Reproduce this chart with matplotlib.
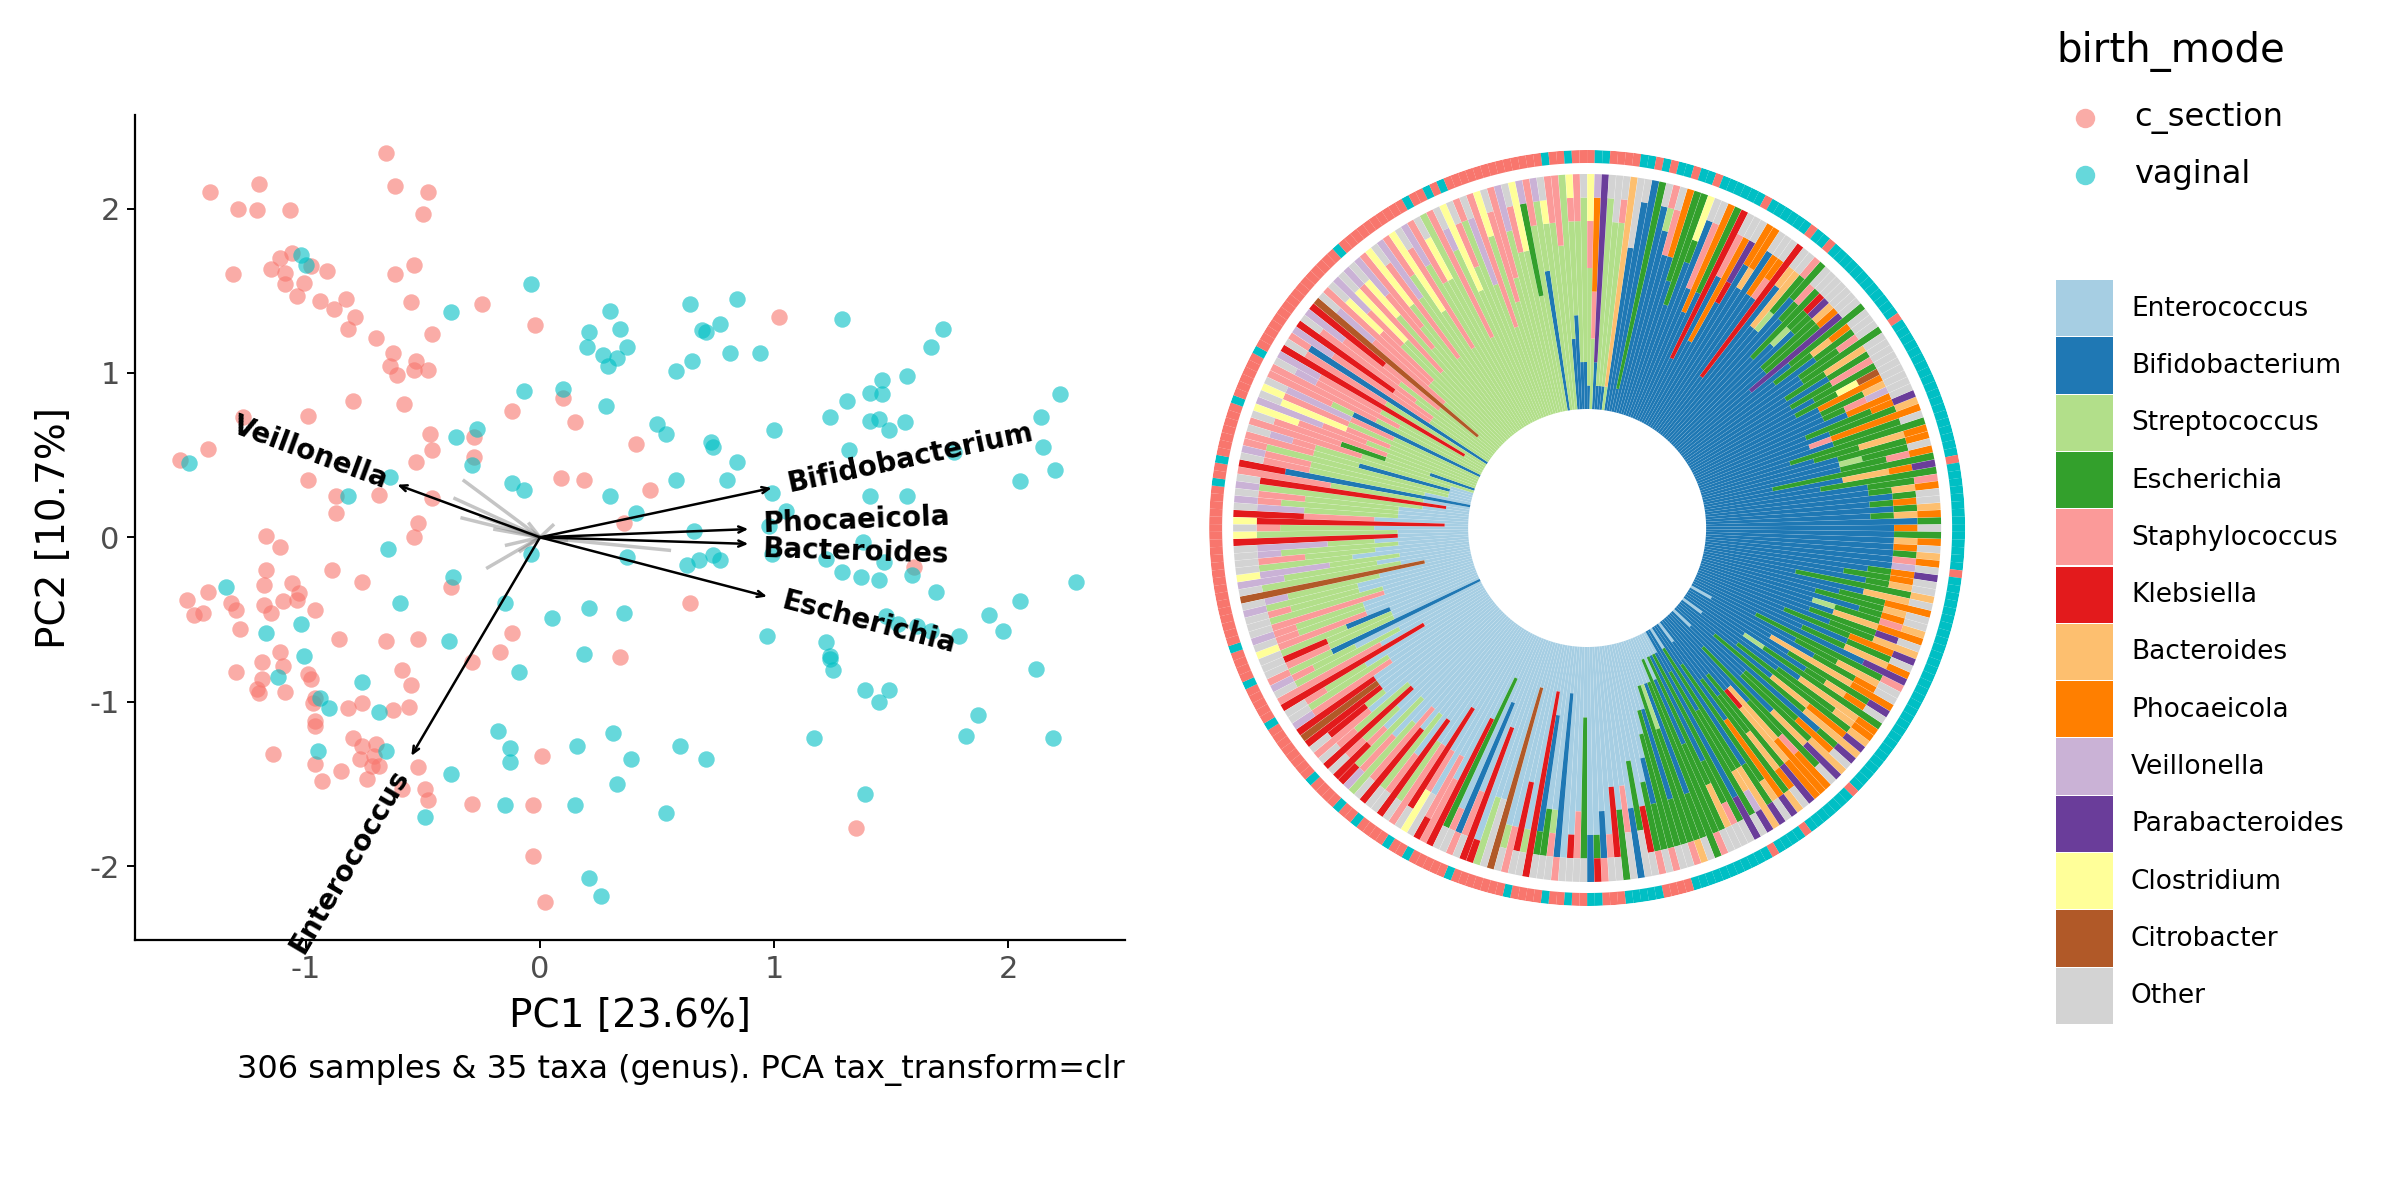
import numpy as np
import matplotlib
matplotlib.use("Agg")
import matplotlib.pyplot as plt
from matplotlib.patches import Rectangle
from matplotlib.lines import Line2D

plt.rcParams['font.family'] = ['DejaVu Sans']
plt.rcParams['axes.unicode_minus'] = False

# ---------------- PCA biplot data ----------------
cs_pts = [
    (-0.66, 2.34), (-1.41, 2.10), (-1.20, 2.15), (-1.29, 2.00), (-1.21, 1.99), (-1.07, 1.99), (-0.62, 2.14),
    (-0.48, 2.10), (-0.50, 1.97), (-1.11, 1.70), (-1.06, 1.73), (-0.98, 1.65), (-1.15, 1.63), (-1.09, 1.61),
    (-1.31, 1.60), (-0.91, 1.62), (-1.09, 1.54), (-1.01, 1.55), (-1.04, 1.47), (-0.94, 1.44), (-0.88, 1.39),
    (-0.83, 1.45), (-0.79, 1.34), (-0.82, 1.27), (-0.62, 1.60), (-0.54, 1.66), (-0.55, 1.43), (-0.46, 1.24),
    (-0.25, 1.42), (-0.70, 1.21), (-0.63, 1.12), (-0.64, 1.04), (-0.61, 0.99), (-0.53, 1.07), (-0.54, 1.02),
    (-0.48, 1.02), (-0.58, 0.81), (-0.80, 0.83), (-0.99, 0.74), (-1.27, 0.73), (-1.42, 0.54), (-1.54, 0.47),
    (-0.99, 0.35), (-0.87, 0.25), (-0.87, 0.15), (-0.69, 0.26), (-0.53, 0.46), (-0.47, 0.63), (-0.46, 0.53),
    (-0.28, 0.61), (-0.28, 0.49), (-0.46, 0.24), (-0.52, 0.09), (-0.54, 0.00), (-0.12, 0.77), (0.10, 0.85),
    (0.15, 0.70), (-0.02, 1.29), (0.09, 0.36), (0.19, 0.35), (0.41, 0.57), (0.47, 0.29), (0.36, 0.09),
    (1.02, 1.34), (-1.17, 0.01), (-1.11, -0.06), (-1.17, -0.20), (-1.18, -0.29), (-1.06, -0.28), (-1.03, -0.34),
    (-1.04, -0.38), (-1.10, -0.39), (-1.51, -0.38), (-1.42, -0.33), (-1.48, -0.47), (-1.44, -0.46), (-1.32, -0.40),
    (-1.30, -0.44), (-1.28, -0.56), (-1.18, -0.41), (-1.15, -0.46), (-0.96, -0.44), (-0.76, -0.27), (-0.89, -0.20),
    (-0.86, -0.62), (-0.66, -0.63), (-0.52, -0.62), (-0.38, -0.30), (-1.30, -0.82), (-1.19, -0.76), (-1.19, -0.86),
    (-1.21, -0.92), (-1.20, -0.95), (-1.09, -0.94), (-1.11, -0.70), (-1.10, -0.78), (-0.99, -0.83), (-0.98, -0.86),
    (-0.96, -0.98), (-0.97, -1.01), (-0.96, -1.12), (-0.96, -1.15), (-0.59, -0.81), (-0.55, -0.90), (-0.56, -1.03),
    (-0.63, -1.05), (-0.82, -1.04), (-0.76, -1.01), (-0.80, -1.22), (-0.76, -1.27), (-0.77, -1.35), (-0.71, -1.33),
    (-0.69, -1.39), (-0.70, -1.26), (-0.72, -1.39), (-0.74, -1.47), (-0.85, -1.42), (-0.93, -1.48), (-0.96, -1.38),
    (-1.14, -1.32), (-0.52, -1.40), (-0.49, -1.53), (-0.48, -1.60), (-0.59, -1.53), (-0.29, -0.76), (-0.17, -0.70),
    (-0.12, -0.58), (0.34, -0.73), (0.01, -1.33), (-0.29, -1.62), (-0.03, -1.63), (-0.03, -1.94), (0.02, -2.22),
    (1.35, -1.77), (1.60, -0.18), (0.64, -0.40),
]
vg_pts = [
    (-1.50, 0.45), (-1.02, 1.72), (-1.00, 1.66), (-0.64, 0.37), (-0.82, 0.25), (-0.65, -0.07), (-1.34, -0.30),
    (-1.17, -0.58), (-1.02, -0.53), (-1.01, -0.72), (-1.12, -0.85), (-0.94, -0.98), (-0.90, -1.04), (-0.76, -0.88),
    (-0.69, -1.06), (-0.66, -1.30), (-0.95, -1.30), (-0.60, -0.40), (-0.37, -0.24), (-0.36, 0.61), (-0.29, 0.44),
    (-0.27, 0.66), (-0.38, 1.37), (-0.04, 1.54), (-0.07, 0.89), (0.10, 0.90), (0.28, 0.80), (-0.12, 0.33),
    (-0.07, 0.29), (-0.04, -0.10), (-0.15, -0.40), (-0.09, -0.82), (0.05, -0.49), (0.19, -0.71), (0.21, -0.43),
    (0.36, -0.46), (0.37, -0.12), (-0.39, -0.63), (-0.38, -1.44), (-0.49, -1.70), (-0.18, -1.18), (-0.13, -1.28),
    (-0.13, -1.37), (-0.15, -1.63), (0.16, -1.27), (0.15, -1.63), (0.31, -1.19), (0.33, -1.50), (0.39, -1.35),
    (0.54, -1.68), (0.60, -1.27), (0.71, -1.35), (0.21, -2.07), (0.26, -2.18), (0.30, 0.25), (0.41, 0.15),
    (0.50, 0.69), (0.54, 0.63), (0.58, 0.35), (0.58, 1.01), (0.65, 1.07), (0.64, 1.42), (0.69, 1.26),
    (0.71, 1.25), (0.77, 1.30), (0.81, 1.12), (0.84, 1.45), (0.94, 1.12), (0.30, 1.38), (0.34, 1.27),
    (0.21, 1.25), (0.20, 1.16), (0.27, 1.11), (0.29, 1.04), (0.33, 1.09), (0.37, 1.16), (0.73, 0.58),
    (0.74, 0.55), (0.84, 0.46), (0.80, 0.35), (0.66, 0.04), (0.63, -0.17), (0.68, -0.14), (0.74, -0.11),
    (0.77, -0.14), (1.00, 0.65), (0.99, 0.27), (1.05, 0.16), (0.98, 0.07), (0.99, -0.10), (1.24, 0.73),
    (1.31, 0.83), (1.32, 0.53), (1.41, 0.71), (1.41, 0.88), (1.45, 0.72), (1.46, 0.96), (1.46, 0.87),
    (1.56, 0.70), (1.49, 0.65), (1.57, 0.98), (1.67, 1.16), (1.72, 1.27), (1.29, 1.33), (1.77, 0.52),
    (1.41, 0.25), (1.57, 0.25), (2.05, 0.34), (2.14, 0.73), (2.15, 0.55), (2.20, 0.41), (2.22, 0.87),
    (1.38, -0.03), (1.22, -0.13), (1.29, -0.21), (1.37, -0.24), (1.45, -0.26), (1.47, -0.15), (1.59, -0.23),
    (1.69, -0.33), (0.97, -0.60), (1.22, -0.64), (1.24, -0.72), (1.24, -0.74), (1.25, -0.81), (1.48, -0.48),
    (1.53, -0.53), (1.61, -0.54), (1.67, -0.57), (1.79, -0.60), (1.92, -0.47), (1.98, -0.57), (2.05, -0.39),
    (2.12, -0.80), (2.29, -0.27), (1.39, -0.93), (1.45, -1.00), (1.49, -0.93), (1.17, -1.22), (1.39, -1.56),
    (1.87, -1.08), (1.82, -1.21), (2.19, -1.22),
]

arrow_names = ["Bifidobacterium", "Phocaeicola", "Bacteroides", "Escherichia", "Veillonella", "Enterococcus"]
arrow_x = [0.99, 0.89, 0.89, 0.97, -0.61, -0.55]
arrow_y = [0.30, 0.05, -0.04, -0.36, 0.32, -1.33]
label_nudge_y = [0.0, 0.03, -0.03, 0.0, 0.0, 0.0]

minor_x = [-0.33, -0.37, -0.34, -0.26, -0.23, -0.15, 0.56, 0.06, -0.05, -0.09, 0.12, -0.20]
minor_y = [0.35, 0.24, 0.12, 0.13, -0.19, -0.05, -0.08, 0.08, 0.09, -0.09, -0.02, 0.05]

# ---------------- composition data ----------------
taxa = ["Enterococcus", "Bifidobacterium", "Streptococcus", "Escherichia", "Staphylococcus",
        "Klebsiella", "Bacteroides", "Phocaeicola", "Veillonella", "Parabacteroides",
        "Clostridium", "Citrobacter", "Other"]
taxa_colors = ["#A6CEE3", "#1F78B4", "#B2DF8A", "#33A02C", "#FB9A99", "#E31A1C", "#FDBF6F",
               "#FF7F00", "#CAB2D6", "#6A3D9A", "#FFFF99", "#B15928", "#D3D3D3"]
codes = "EBSXPKAHVRCTO"  # one letter per taxon, same order as taxa

# each sample: letters = tenths of relative abundance, in seriated (clockwise) order
bars = [
    # 0 - 90 deg
    "BSSSSSPPCC", "SSSPPHHHHV", "BBRRRRRRRR", "BSSSSSSSSO", "BSSSSSSSOO", "BSSSSSSSPO", "SAAAAAAAAA",
    "BBBBBBBOOO", "BBBBBBBBBO", "BBBBBBBBBB", "BXXXXXXXXX", "BBBBBBBBBO", "BBBBBBBBSP", "BBBBBBBPPO",
    "BBBBBBBHHH", "BBBBBBXXXX", "BBBBBXXXXX", "BBBBBBBXCC", "BBBBBBBBBO", "BBBBBBPPPO", "BBBBBHHHHH",
    "BBBBBBXXXX", "BBBKKKKKKK", "BBBBBBBPPO", "BBBBHHHHHO", "BBBBBBKRRO", "BBBBBBBBHH", "BBBBBBBAHH",
    "BBBBBBBBBO", "BBBBBBBHHO", "BBBBBBBPHO", "BBBKKKKKKK", "BBBBBBBBAO", "BBBBBBAAAO", "BBBBBBXXSP",
    "BBBBBBBBXX", "BBBBBBBXPO", "BBBBBXXXXO", "BBBBBBSXKO", "BBBBBBBXRO", "BBBBBXXXAO", "BBBBBXXXHO",
    "BBBBRRRRRO", "BBBBBBXXXX", "BBBBBXXAHO", "BBBBBBBXXO", "BBBBBBXXPO", "BBBBBBXXXX", "BBBBBXXAAO",
    "BBBBBBBXXO", "BBBBBXXPPO", "BBBBBBXXXO", "BBBBBXXCTO", "BBBBBBHHHO", "BBBBBBXXAO", "BBBBBBXPVO",
    "BBBBBBBHHO", "BBBBBXXXHR", "BBBBBBXXXA", "BBBBBHHHHP", "BBBBBBXXXO", "BBBBXXXXXX", "BBBBBXXAAH",
    "BBBBBBXXXH", "BBBBBBSXXO", "BBBBBBXXPH", "BBBXXXXXXX", "BBBBBBAAHR", "BBBBBXXXXX", "BBBBBBBXXP",
    "BBBBBBBXAH", "BBBBBBBBXO", "BBBBBBBXHO", "BBBBBBBBXA", "BBBBBBBXAH", "BBBBBBBBBX", "BBBBBBBBHO",
    # 90 - 180 deg
    "BBBBBBBBXX", "BBBBBBBBAH", "BBBBBBBBHO", "BBBBBBBBXA", "BBBBBBBBHP", "BBBBBBBBVO", "BBBBBBBXHR",
    "BBBBBBXXHO", "BBBBBBBXAO", "BBBBXXXXXA", "BBBBBBBAAO", "BBBBBBXXHH", "BBBBBXXXAO", "BBBBBBBXHO",
    "BBBBBSXXAP", "BBBBBBAAHH", "BBBBBXXXRO", "BBBBBBXXAA", "BBBBXXXHHR", "BBBBBBBXXO", "BBBBBXXAAH",
    "BBBBBBBBRR", "BBBXXXXXXP", "BBBBBXXAAO", "EBBBBBXXHO", "BBBBAAAAHH", "BBBBBXXXXR", "BBBBBBXAHO",
    "BBBXXXXXXS", "BBBBBBAAAH", "EBBBBXXXAH", "BBBXXXXXXA", "BBBBBAAHHR", "BBXXXXXAAA", "BBBBBBBBXR",
    "BBBBXXXHHO", "EBBBXXXXAA", "BBBBBBAARR", "BBXXXXXXXO", "BBBBBXXPHH", "BBBBAAAHHH", "BBBBKAAAHH",
    "BBBXXXXXRR", "BBBBXXAAHO", "EBBXXXXXXA", "BBBBBHHHHR", "BBXXXXXXAO", "BBBBBBBXXR", "EXXXXXXAAA",
    "BBBBXXXAVR", "BBXXXXXXXO", "EBBBBBBBRR", "EXXXXXXXXO", "EBBBBBXXPO", "EXXXXXXAAO", "EEBBBXXXXO",
    "EXXXXXXXXP", "EEXXXXXXXX", "EEBBBBBXXO", "EESSXXXXXA", "EEXXXXXXXP", "EEEBBBBXXO", "EEEXXXXXXO",
    "EEEEXXXXXP", "EEEEEBBXXO", "EEEEEEXXXP", "EEEEEEEKKO", "EEEEEXXXOO", "EEEEEEEBBB", "EEEEEEPPOO",
    "EEEEEEEXXX", "EEEEEEKKKO", "EEEEEEEEPO", "EEEEEEEBBP", "EEEEEEEEXK", "EEEEEEEEBB",
    # 180 - 270 deg
    "EEEXXXXXXO", "EEEEEEEPPO", "EEEEEEEEKO", "EEEEEEEEEO", "EEBBBBBBBP", "EEEEEEESPO", "EEEEEEEXXO",
    "EEEBBBBBXO", "EEKKKKKKKK", "EEEEEEEESO", "EEEEEEKKKO", "EEEEEEEEPP", "EEEEEEEESO", "EETTTTTTTT",
    "EEEEEEEOOO", "EEEEEEESSS", "EEEEEEEEEK", "EEEEKKKKKK", "EEEEEEEPPO", "EEEBBBBBBP", "EEEEEEEEPO",
    "EEXXXXXXXO", "EEEEKKKKKK", "EEEEEEEPPP", "EEEEEEPPPK", "EEEEEEEEOO", "EEEEEEPPCC", "EEEEKKKKKO",
    "EEEEEEPPPP", "EEEEEESSSO", "EEEEEKKKKK", "EEEEEEEPPO", "EEEEESSSSO", "EEEEEEKKKK", "EEEEEPPPPO",
    "EEEEEESSSS", "EEEEEEEPPV", "EEEEESSSSK", "EEEEEEEKKP", "EEEEEESSPO", "EEEEEKKKKK", "EEEEESSSPO",
    "EEEEEEEPPP", "EEEEEESKKO", "EEEEEEKKKK", "EEEEEETTTT", "EEEEEEKKKK", "EEEEEPPPPV", "EEEEESSSSO",
    "EEEEEESSPO", "EEEKKKKKKK", "EEEEEPPPPP", "EEEESSSSSO", "EEEEEESSPV", "BBBBBBBSSP", "EEEESSSPPO",
    "EEEESSSKKO", "EEEESSSBBO", "EEEEEPPPPC", "EEEEESSSPO", "EEEEESSSPV", "EEEEPPPPPO", "EEEESSSSSO",
    "EEEEESSSPO", "EEEEESSSSV", "EEEESSSSVO", "EETTTTTTTT", "EEESSSSSSO", "EEEESSSSVV", "EEESSSVVVC",
    "EEEEESSSSO", "EEEESSSPPO", "EEESSSSSVO", "EEEESSVVVO", "EEEKKKKKKK", "EEESSSSSSC", "EEEESSSSPO",
    # 270 - 360 deg
    "EKKKKKKKKC", "EEEEPPPKKK", "EEESSSSVVO", "EEESSSSSVP", "EEESSSSPPO", "EESSSSSSVS", "EKKKKKKKKO",
    "EESSSSPPPP", "BBBBBBBBKK", "EESSSSSPPO", "ESSSSSSPPV", "ESSSSSSSSP", "EBBBBSSPPP", "ESSSSSSPVO",
    "SSSSSPPPPP", "SSBBXXPPPO", "SSSSPPPPCC", "SSSSSPPVVV", "SSSSPPCCCO", "SSSSSSPPCP", "SSSSPPVVVO",
    "SBBBBBBPPP", "SSSSSPPPPP", "SSSSPPPPVO", "SSSSSPPPVV", "SKKKKKKKKK", "SSSSSPPPPO", "BBBBBBBBBP",
    "SSSPPPPPVV", "SSSPPKKKKK", "SSSSPPPPPO", "SSSSSPPVVP", "SSSPPPKKKK", "STTTTTTTTT", "SSSPPPPVVO",
    "SSSSPPPPPP", "SSSSPPPCCO", "SSSSSSPPVV", "SSSSSSCCCO", "SSSSPPPPVP", "SSSSSSSCCO", "SSSSSPPPVV",
    "SSSSSSPPPP", "SSSSSSSCCC", "SSSSPPPPPO", "SSSSSSSVVV", "SSSSSSSSPP", "SSSSSSCCCC", "SSSSPPPPPO",
    "SSSSSSSSVV", "SSSSSSSPPP", "SSSSSSSCCO", "SSSSSSSSSS", "SSSSPPPPPP", "SSSSSSSSVO", "SSSSSSCCCC",
    "SSSSSSSPPO", "SSSSSSSSSP", "SSSSSSVVVO", "SSSSPPPPPP", "SSSSSSSSCC", "SSSSSPPPPO", "SSSSSSPPPP",
    "SSSSSSSSVV", "SSSSSSSPPO", "SSSSSSSCCC", "XXXXSSSSSV", "SSSSSSSSPP", "BBBBBBSSSV", "SSSSSSSSCO",
    "SSSSSSSSPP", "SSSSSSSPPP", "BBBSSSSSSS", "BBBBSSSSPC", "BBSSSSSSPP", "BBSSSSSSSO",
]

# birth mode of each sample around the ring (c = c_section, v = vaginal)
ring_modes = (
    "cvvccccvvc" "vcvvcvvcvv" "vvvvcvvvvv" "vcvvcvvvvv" "vvvvvvvcvv"
    "vvvvvvvvvv" "vvvvvvvcvv" "vvvvvvvvvv" "vvcvvvvvvv" "vvvvvvvvvv"
    "vvvvvvvvvv" "vvvvcvvvvv" "vvcvvvvcvv" "vvvvvvvvvc" "cccvvvvvcc"
    "cvvccvccvc" "cccvcccccc" "cvcccccvcc" "vccccvccvc" "cccvcccccc"
    "ccvcccccvc" "cccvcccccc" "cccccccccc" "cccccvccvc" "ccccccvccc"
    "cccvcccccc" "cccccccccc" "vccccccccc" "cvccvcvccc" "cccccccccc"
    "vccvcc"
)

mode_colors = {"c": "#F8766D", "v": "#00BFC4"}

# ---------------- figure ----------------
fig = plt.figure(figsize=(24, 12), dpi=100)
fig.patch.set_facecolor("white")

ax = fig.add_axes([0.0563, 0.2167, 0.4125, 0.6875])
ax.set_xlim(-1.73, 2.50)
ax.set_ylim(-2.45, 2.57)

# minor taxa loadings (grey)
for mx, my in zip(minor_x, minor_y):
    ax.plot([0, mx], [0, my], color="#7f7f7f", alpha=0.45, lw=2.5, solid_capstyle="butt", zorder=1)

cx, cy = zip(*cs_pts)
vx, vy = zip(*vg_pts)
ax.scatter(cx, cy, s=140, color="#F8766D", alpha=0.6, linewidths=0, zorder=2)
ax.scatter(vx, vy, s=140, color="#00BFC4", alpha=0.6, linewidths=0, zorder=2)

p0 = ax.transData.transform((0, 0))
for name, x, y, ny in zip(arrow_names, arrow_x, arrow_y, label_nudge_y):
    ax.annotate("", xy=(x, y), xytext=(0, 0),
                arrowprops=dict(arrowstyle="->,head_length=0.5,head_width=0.22",
                                color="black", lw=1.8, shrinkA=0, shrinkB=0),
                zorder=3)
    p1 = ax.transData.transform((x, y))
    ang = np.degrees(np.arctan2(p1[1] - p0[1], p1[0] - p0[0]))
    if x < 0:
        ang += 180
        ha = "right"
    else:
        ha = "left"
    ax.text(x * 1.07, y * 1.07 + ny, name, rotation=ang, rotation_mode="anchor",
            ha=ha, va="center", fontsize=20, fontweight="bold", zorder=4)

ax.spines["top"].set_visible(False)
ax.spines["right"].set_visible(False)
ax.spines["left"].set_linewidth(1.6)
ax.spines["bottom"].set_linewidth(1.6)
ax.set_xticks([-1, 0, 1, 2])
ax.set_yticks([-2, -1, 0, 1, 2])
ax.tick_params(length=6, width=1.4, labelsize=22, labelcolor="#4D4D4D", pad=5)

fig.text(0.2625, 0.1533, "PC1 [23.6%]", fontsize=28, ha="center", va="center")
fig.text(0.0225, 0.5604, "PC2 [10.7%]", fontsize=28, ha="center", va="center", rotation=90)
fig.text(0.4688, 0.108, "306 samples & 35 taxa (genus). PCA tax_transform=clr",
         fontsize=23, ha="right", va="center")

# ---------------- circular composition bar chart ----------------
pax = fig.add_axes([0.5038, 0.245, 0.315, 0.63], projection="polar")
pax.set_theta_zero_location("N")
pax.set_theta_direction(-1)
pax.set_ylim(0, 378)
pax.set_axis_off()

n = len(ring_modes)
slot = 2 * np.pi / n
theta = (np.arange(len(bars)) + 0.5) * slot
r_in, r_out = 119, 354

frac = np.array([[b.count(c) / len(b) for c in codes] for b in bars])
bottom = np.full(len(bars), float(r_in))
for j, col in enumerate(taxa_colors):
    h = frac[:, j] * (r_out - r_in)
    pax.bar(theta, h, width=slot * 0.97, bottom=bottom, color=col, linewidth=0)
    bottom += h

ring_theta = (np.arange(n) + 0.5) * slot
pax.bar(ring_theta, 13, width=slot * 1.01, bottom=365,
        color=[mode_colors[m] for m in ring_modes], linewidth=0)

# ---------------- legends ----------------
lx = 2056 / 2400
fig.text(lx, 1 - 51 / 1200, "birth_mode", fontsize=29, ha="left", va="center")
for i, (lab, key) in enumerate([("c_section", "c"), ("vaginal", "v")]):
    yy = 1 - (118 + 57 * i) / 1200
    fig.add_artist(Line2D([2085 / 2400], [yy], marker="o", markersize=14, linestyle="",
                          color=mode_colors[key], alpha=0.6, markeredgewidth=0,
                          transform=fig.transFigure))
    fig.text(2134 / 2400, yy, lab, fontsize=23, ha="left", va="center")

box_h = 57.3
for i, (name, col) in enumerate(zip(taxa, taxa_colors)):
    top = 280 + i * box_h
    fig.add_artist(Rectangle((lx, 1 - (top + box_h - 1) / 1200), 57 / 2400, (box_h - 1) / 1200,
                             facecolor=col, edgecolor="none", transform=fig.transFigure))
    fig.text(2131 / 2400, 1 - (top + box_h / 2) / 1200, name, fontsize=19, ha="left", va="center")

fig.savefig("out.png", dpi=100, facecolor="white")
